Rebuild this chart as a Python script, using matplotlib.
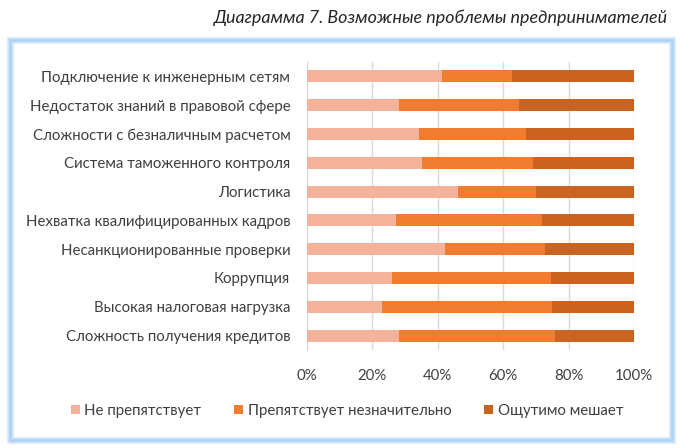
import matplotlib
matplotlib.use("Agg")
import matplotlib.pyplot as plt
from matplotlib.patches import Rectangle
import numpy as np

categories = [
    "Подключение к инженерным сетям",
    "Недостаток знаний в правовой сфере",
    "Сложности с безналичным расчетом",
    "Система таможенного контроля",
    "Логистика",
    "Нехватка квалифицированных кадров",
    "Несанкционированные проверки",
    "Коррупция",
    "Высокая налоговая нагрузка",
    "Сложность получения кредитов",
]
no_obstacle = [41.3, 28.1, 34.4, 35.3, 46.1, 27.1, 42.3, 26.1, 23.0, 28.0]
minor_obstacle = [21.4, 36.8, 32.7, 33.8, 23.9, 44.7, 30.5, 48.5, 51.9, 47.8]
major_obstacle = [100 - a - b for a, b in zip(no_obstacle, minor_obstacle)]
series_names = ["Не препятствует", "Препятствует незначительно", "Ощутимо мешает"]
xticks = [0, 20, 40, 60, 80, 100]
xticklabels = ["0%", "20%", "40%", "60%", "80%", "100%"]
title = "Диаграмма 7. Возможные проблемы предпринимателей"

colors = ["#F4B29A", "#F07D2F", "#C9631F"]
txt = "#404040"
plt.rcParams["font.family"] = ["Lato", "DejaVu Sans"]

fig = plt.figure(figsize=(6.8, 4.48), dpi=100)
fig.patch.set_facecolor("white")

# chart frame (soft blue glow)
for lw, col in [(5, "#DCEBFA"), (2.5, "#B2D3F3")]:
    frame = Rectangle((10 / 680, 1 - 440 / 448), 662 / 680, 400 / 448,
                      transform=fig.transFigure, facecolor="none",
                      edgecolor=col, linewidth=lw, zorder=-1)
    fig.patches.append(frame)

fig.text(668 / 680, 1 - 18 / 448, title, ha="right", va="center",
         fontsize=12.9, style="italic", color="#262626")

ax = fig.add_axes([307 / 680, 1 - 350 / 448, 327 / 680, 288 / 448], zorder=2)
ax.set_facecolor("none")
y = np.arange(len(categories))
left = np.zeros(len(categories))
for vals, c, name in zip([no_obstacle, minor_obstacle, major_obstacle], colors, series_names):
    ax.barh(y, vals, left=left, height=0.42, color=c, label=name, zorder=3)
    left = left + np.array(vals)

ax.set_ylim(len(categories) - 0.5, -0.5)
ax.set_xlim(0, 100)
ax.set_xticks(xticks)
ax.set_xticklabels(xticklabels)
ax.set_yticks(y)
ax.set_yticklabels(categories)
ax.tick_params(axis="both", length=0, colors=txt, labelsize=10.8)
ax.tick_params(axis="x", pad=14)
ax.tick_params(axis="y", pad=12)
ax.grid(axis="x", color="#D9D9D9", linewidth=1, zorder=0)
for s in ["top", "right", "bottom"]:
    ax.spines[s].set_visible(False)
ax.spines["left"].set_color("#D9D9D9")

leg = fig.legend(loc="center", bbox_to_anchor=(347 / 680, 1 - 411 / 448), ncol=3,
                 frameon=False, fontsize=10.8, handlelength=0.6, handleheight=0.6,
                 handletextpad=0.3, columnspacing=2.2, labelcolor=txt)

fig.savefig("out.png", dpi=100, facecolor="white")
